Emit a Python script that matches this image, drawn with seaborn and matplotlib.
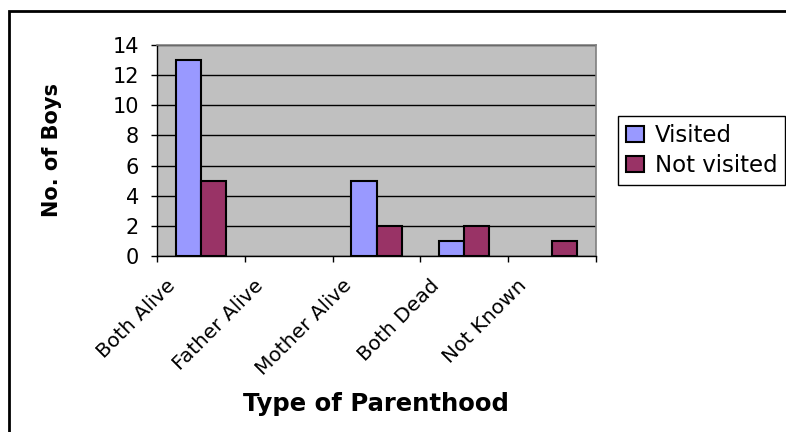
import matplotlib
matplotlib.use("Agg")
import matplotlib.pyplot as plt
import matplotlib.transforms as mtransforms
from matplotlib.patches import Patch, Rectangle
import pandas as pd
import seaborn as sns

categories = ["Both Alive", "Father Alive", "Mother Alive", "Both Dead", "Not Known"]
visited = [13, 0, 5, 1, 0]
not_visited = [5, 0, 2, 2, 1]
series_names = ["Visited", "Not visited"]
y_ticks = [0, 2, 4, 6, 8, 10, 12, 14]
colors = ["#9999FF", "#993366"]

df = pd.DataFrame({
    "Parenthood": categories * 2,
    "Boys": visited + not_visited,
    "Status": [series_names[0]] * len(categories) + [series_names[1]] * len(categories),
})

sns.set_theme(style="ticks")
plt.rcParams["font.family"] = ["DejaVu Sans"]
for key in ["text.color", "axes.labelcolor", "xtick.color", "ytick.color"]:
    plt.rcParams[key] = "black"

W, H = 786, 432
fig = plt.figure(figsize=(W / 100, H / 100), dpi=100)
ax = fig.add_axes([157 / W, 1 - 256 / H, (596 - 157) / W, (256 - 45) / H])
ax.set_facecolor("#C0C0C0")

sns.barplot(
    data=df, x="Parenthood", y="Boys", hue="Status",
    palette=colors, saturation=1, width=0.57,
    edgecolor="black", linewidth=1.5, ax=ax, zorder=3, legend=False,
)
# empty categories show no bar at all
for bar in ax.patches:
    if bar.get_height() == 0:
        bar.set_visible(False)

ax.set_ylim(0, 14)
ax.set_yticks(y_ticks)
ax.set_xlim(-0.5, len(categories) - 0.5)
ax.yaxis.grid(True, color="black", linewidth=1, zorder=1)
ax.set_axisbelow(True)

for side in ["left", "bottom"]:
    ax.spines[side].set_color("black")
    ax.spines[side].set_linewidth(1)
for side in ["top", "right"]:
    ax.spines[side].set_visible(True)
    ax.spines[side].set_color("#808080")
    ax.spines[side].set_linewidth(1.2)

ax.tick_params(axis="y", length=4, width=1, color="black", pad=9, labelsize=15)
ax.set_xticks([i - 0.5 for i in range(len(categories) + 1)], minor=True)
ax.tick_params(axis="x", which="minor", length=4, width=1, color="black", direction="out")
ax.tick_params(axis="x", which="major", length=0, pad=19, labelsize=14.5)

offset = mtransforms.ScaledTranslation(-0.28, 0, fig.dpi_scale_trans)
for lab in ax.get_xticklabels():
    lab.set_rotation(45)
    lab.set_ha("right")
    lab.set_va("center")
    lab.set_rotation_mode("anchor")
    lab.set_transform(lab.get_transform() + offset)

ax.set_xlabel("")
ax.set_ylabel("")
fig.text(52 / W, 1 - 150 / H, "No. of Boys", rotation=90, ha="center", va="center",
         fontsize=15, fontweight="bold")
fig.text(376 / W, 1 - 404 / H, "Type of Parenthood", ha="center", va="center",
         fontsize=17.5, fontweight="bold")

handles = [Patch(facecolor=c, edgecolor="black", linewidth=1.5) for c in colors]
leg = ax.legend(
    handles, series_names, loc="upper left", bbox_to_anchor=(618 / W, 1 - 116 / H),
    bbox_transform=fig.transFigure, frameon=True, fancybox=False, framealpha=1,
    edgecolor="black", fontsize=16.5, handlelength=0.8, handleheight=0.7,
    handletextpad=0.45, borderaxespad=0, borderpad=0.35, labelspacing=0.3,
)
leg.get_frame().set_linewidth(1)

fig.patches.append(Rectangle((9 / W, -0.1), 1.2, 1 - 11 / H + 0.1, transform=fig.transFigure,
                             fill=False, edgecolor="black", linewidth=2))

fig.savefig("out.png", dpi=100)
